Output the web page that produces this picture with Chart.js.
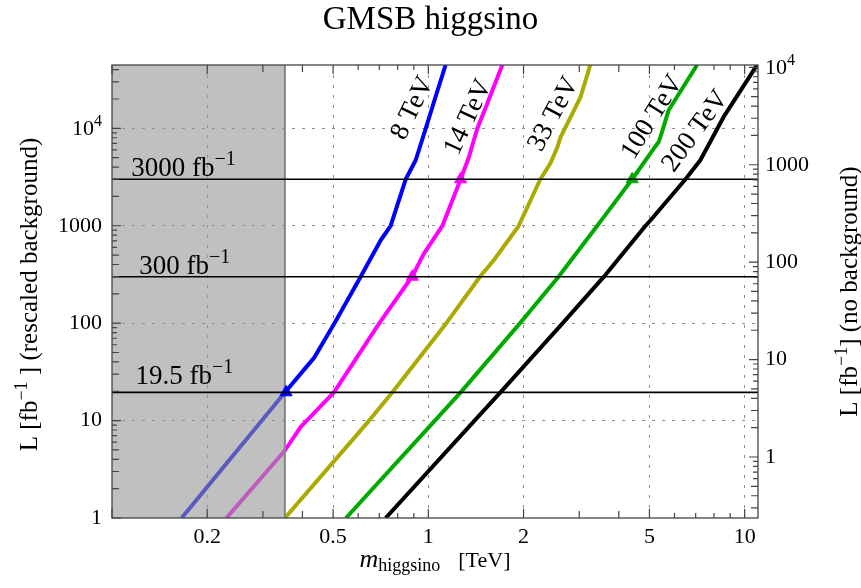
<!DOCTYPE html>
<html>
<head>
<meta charset="utf-8">
<script src="https://cdn.jsdelivr.net/npm/chart.js@4.4.1/dist/chart.umd.min.js"></script>
<style>
  body { margin: 0; background: #fff; }
</style>
</head>
<body>
<canvas id="grafico" width="861" height="588"></canvas>
<script>
// reach curves: mass (TeV) vs luminosity (fb^-1), one per collider energy
const m8 = [0.166, 0.352, 0.435, 0.505, 0.611, 0.707, 0.760, 0.848, 0.912, 0.981, 1.062, 1.134];
const L8 = [1, 19.4, 44, 100, 300, 710, 995, 3000, 4700, 9950, 22760, 44670];

const m14 = [0.230, 0.352, 0.395, 0.503, 0.700, 0.890, 0.968, 1.107, 1.265, 1.344, 1.428, 1.536, 1.713];
const L14 = [1, 4.93, 8.6, 19.5, 100, 303, 518, 995, 3000, 5080, 9950, 17980, 44670];

const m33 = [0.352, 0.650, 0.770, 1.140, 1.460, 1.610, 1.930, 2.260, 2.430, 2.560, 2.620, 2.820, 3.030, 3.250];
const L33 = [1, 10, 19.5, 100, 303, 442, 995, 3000, 4350, 6440, 8170, 13100, 21000, 44670];

const m100 = [0.549, 1.049, 1.265, 1.950, 2.580, 3.420, 3.590, 4.410, 5.160, 5.350, 5.480, 5.750, 7.070];
const L100 = [1, 10, 19.5, 100, 300, 1000, 1232, 3000, 6200, 7250, 9180, 15350, 44670];

const m200 = [0.733, 1.400, 1.690, 2.660, 3.590, 4.860, 5.040, 6.500, 7.240, 8.580, 10.940];
const L200 = [1, 10, 19.5, 100, 300, 1000, 1138, 3000, 4700, 13090, 44670];

// luminosity benchmarks
const lumis = [3000, 300, 19.5];
const lumiNames = ['3000', '300', '19.5'];

// triangles where the curves cross the benchmarks
const markM = [0.355, 0.890, 1.265, 4.410];
const markL = [19.5, 300, 3000, 3000];
const markColor = ['#0000ff', '#ff00ff', '#ff00ff', '#00aa00'];

// excluded mass range
const excludedMax = 0.352;

// axis ranges and ticks
const xMin = 0.1, xMax = 11.02;
const yMin = 1, yMax = 44670;
const rightFactor = 4.23; // no-background axis = rescaled / 4.23
const xLabels = [0.2, 0.5, 1, 2, 5, 10];
const yLabels = [1, 10, 100, 1000, 10000];
const yGrid = [10, 100, 1000, 10000];

const energies = ['8 TeV', '14 TeV', '33 TeV', '100 TeV', '200 TeV'];
const colors = ['#0000ff', '#ff00ff', '#aaaa00', '#00aa00', '#000000'];

// where the energy names sit (data coords) and their angle
const namePos = [[0.892, 16070, 64], [1.34, 12970, 65], [2.49, 13940, 62], [5.11, 12970, 58], [6.99, 9330, 54]];

const font = '"Liberation Serif", "Times New Roman", serif';

function pts(xs, ys) {
  return xs.map((x, i) => ({ x: x, y: ys[i] }));
}

function logTicks(lo, hi) {
  const out = [];
  for (let e = -2; e <= 5; e++) {
    for (let k = 1; k <= 9; k++) {
      const v = +(k * Math.pow(10, e)).toPrecision(6);
      if (v >= lo * 0.999 && v <= hi * 1.001) out.push(v);
    }
  }
  return out;
}

function tickLen(v, labelled) {
  if (labelled) return 9;
  const k = Math.round(v / Math.pow(10, Math.floor(Math.log10(v) + 1e-9)));
  if (k === 1) return 9;
  if (k <= 5) return 7;
  return 5;
}

// text made of pieces (for super/subscripts)
function pieceWidth(ctx, parts) {
  let w = 0;
  for (const p of parts) {
    ctx.font = (p.it ? 'italic ' : '') + p.s + 'px ' + font;
    w += ctx.measureText(p.t).width + (p.gap || 0);
  }
  return w;
}

function writePieces(ctx, parts, x, y, align) {
  const w = pieceWidth(ctx, parts);
  let cx = x;
  if (align === 'center') cx = x - w / 2;
  if (align === 'right') cx = x - w;
  ctx.textAlign = 'left';
  ctx.textBaseline = 'alphabetic';
  for (const p of parts) {
    ctx.font = (p.it ? 'italic ' : '') + p.s + 'px ' + font;
    ctx.fillText(p.t, cx, y - (p.up || 0));
    cx += ctx.measureText(p.t).width + (p.gap || 0);
  }
}

const curveStart = lumis.length + markM.length;

const datasets = [];
lumis.forEach(l => {
  datasets.push({
    data: pts([xMin, xMax], [l, l]),
    borderColor: '#000', borderWidth: 1.6, pointRadius: 0, order: 0
  });
});
markM.forEach((m, i) => {
  datasets.push({
    data: [{ x: m, y: markL[i] }],
    showLine: false, pointStyle: 'triangle', pointRadius: 7,
    backgroundColor: markColor[i], borderColor: markColor[i], borderWidth: 1, order: 0
  });
});
[[m8, L8], [m14, L14], [m33, L33], [m100, L100], [m200, L200]].forEach((c, i) => {
  datasets.push({
    label: energies[i],
    data: pts(c[0], c[1]),
    borderColor: colors[i], borderWidth: 4, pointRadius: 0,
    borderJoinStyle: 'round', borderCapStyle: 'butt', order: 1
  });
});

function gridColor(list) {
  return (c) => (c.tick && list.includes(c.tick.value)) ? '#8c8c8c' : 'rgba(0,0,0,0)';
}

const extras = {
  id: 'extras',
  // grey band goes over the curves but under the benchmark lines
  afterDatasetDraw(chart, args) {
    if (args.index !== curveStart) return;
    const ctx = chart.ctx, a = chart.chartArea, x = chart.scales.x;
    const xe = x.getPixelForValue(excludedMax);
    ctx.save();
    ctx.fillStyle = 'rgba(150,150,150,0.6)';
    ctx.fillRect(a.left, a.top, xe - a.left, a.bottom - a.top);
    ctx.strokeStyle = '#858585';
    ctx.lineWidth = 2;
    ctx.beginPath();
    ctx.moveTo(xe, a.top);
    ctx.lineTo(xe, a.bottom);
    ctx.stroke();
    ctx.restore();
  },
  afterDraw(chart) {
    const ctx = chart.ctx, a = chart.chartArea;
    const x = chart.scales.x, y = chart.scales.y, y2 = chart.scales.y2;
    ctx.save();

    // frame
    ctx.strokeStyle = '#444';
    ctx.lineWidth = 1.3;
    ctx.strokeRect(a.left, a.top, a.right - a.left, a.bottom - a.top);

    // inward tick marks
    ctx.lineWidth = 1.2;
    ctx.beginPath();
    x.ticks.forEach(t => {
      const px = x.getPixelForValue(t.value);
      const n = tickLen(t.value, xLabels.includes(t.value));
      ctx.moveTo(px, a.bottom); ctx.lineTo(px, a.bottom - n);
      ctx.moveTo(px, a.top); ctx.lineTo(px, a.top + n);
    });
    y.ticks.forEach(t => {
      const py = y.getPixelForValue(t.value);
      const n = tickLen(t.value, false);
      ctx.moveTo(a.left, py); ctx.lineTo(a.left + n, py);
    });
    y2.ticks.forEach(t => {
      const py = y2.getPixelForValue(t.value);
      const n = tickLen(t.value, false);
      ctx.moveTo(a.right, py); ctx.lineTo(a.right - n, py);
    });
    ctx.stroke();

    ctx.fillStyle = '#000';

    // 10^4 labels on both sides
    const sup4 = [{ t: '10', s: 22 }, { t: '4', s: 16, up: 9 }];
    writePieces(ctx, sup4, a.left - 10, y.getPixelForValue(10000) + 7, 'right');
    writePieces(ctx, sup4, a.right + 7, y2.getPixelForValue(10000) + 7, 'left');

    // benchmark names
    const lift = [3, 3, 8];
    const left = [0.115, 0.122, 0.1187];
    lumis.forEach((l, i) => {
      writePieces(ctx, [{ t: lumiNames[i] + ' fb', s: 27 }, { t: '\u22121', s: 20, up: 11 }],
        x.getPixelForValue(left[i]), y.getPixelForValue(l) - lift[i], 'left');
    });

    // energy names along the curves
    ctx.font = '27px ' + font;
    namePos.forEach((p, i) => {
      ctx.save();
      ctx.translate(x.getPixelForValue(p[0]), y.getPixelForValue(p[1]));
      ctx.rotate(-p[2] * Math.PI / 180);
      ctx.textAlign = 'center';
      ctx.textBaseline = 'middle';
      ctx.fillText(energies[i], 0, 0);
      ctx.restore();
    });

    // axis titles
    writePieces(ctx, [
      { t: 'm', s: 26, it: true },
      { t: 'higgsino', s: 18, up: -4, gap: 18 },
      { t: '[TeV]', s: 22 }
    ], (a.left + a.right) / 2, 567, 'center');

    ctx.save();
    ctx.translate(37, (a.top + a.bottom) / 2 + 3);
    ctx.rotate(-Math.PI / 2);
    writePieces(ctx, [
      { t: 'L [fb', s: 25 }, { t: '\u22121', s: 18, up: 10 }, { t: ' ] (rescaled background)', s: 25 }
    ], 0, 0, 'center');
    ctx.restore();

    ctx.save();
    ctx.translate(857, (a.top + a.bottom) / 2);
    ctx.rotate(-Math.PI / 2);
    writePieces(ctx, [
      { t: 'L [fb', s: 25 }, { t: '\u22121', s: 18, up: 10 }, { t: '] (no background)', s: 25 }
    ], 0, 0, 'center');
    ctx.restore();

    ctx.restore();
  }
};

const tickFont = { family: font, size: 22 };

new Chart(document.getElementById('grafico'), {
  type: 'line',
  data: { datasets: datasets },
  options: {
    responsive: false,
    animation: false,
    devicePixelRatio: 1,
    layout: { padding: 0 },
    plugins: {
      legend: { display: false },
      tooltip: { enabled: false },
      title: {
        display: true,
        text: 'GMSB higgsino',
        color: '#000',
        font: { family: font, size: 33, weight: 'normal', lineHeight: 1.2 },
        padding: { top: 1, bottom: 24.4 }
      }
    },
    scales: {
      x: {
        type: 'logarithmic', position: 'bottom', min: xMin, max: xMax,
        afterBuildTicks: s => { s.ticks = logTicks(xMin, xMax).map(v => ({ value: v })); },
        afterFit: s => { s.height = 70; },
        ticks: {
          autoSkip: false, maxRotation: 0, padding: 6, color: '#000', font: tickFont,
          callback: v => xLabels.includes(v) ? String(v) : ''
        },
        grid: { drawTicks: false, color: gridColor(xLabels), lineWidth: 1, borderDash: [3, 7] },
        border: { display: false, dash: [3, 7] }
      },
      y: {
        type: 'logarithmic', position: 'left', min: yMin, max: yMax,
        afterBuildTicks: s => { s.ticks = logTicks(yMin, yMax).map(v => ({ value: v })); },
        afterFit: s => { s.width = 112; },
        ticks: {
          autoSkip: false, padding: 10, color: '#000', font: tickFont,
          callback: v => (yLabels.includes(v) && v < 10000) ? String(v) : ''
        },
        grid: { drawTicks: false, color: gridColor(yGrid), lineWidth: 1, borderDash: [3, 7] },
        border: { display: false, dash: [3, 7] }
      },
      y2: {
        type: 'logarithmic', position: 'right', min: yMin / rightFactor, max: yMax / rightFactor,
        afterBuildTicks: s => { s.ticks = logTicks(yMin / rightFactor, yMax / rightFactor).map(v => ({ value: v })); },
        afterFit: s => { s.width = 103; },
        ticks: {
          autoSkip: false, padding: 7, color: '#000', font: tickFont,
          callback: v => (yLabels.includes(v) && v < 10000) ? String(v) : ''
        },
        grid: { drawOnChartArea: false, drawTicks: false },
        border: { display: false }
      }
    }
  },
  plugins: [extras]
});
</script>
</body>
</html>
